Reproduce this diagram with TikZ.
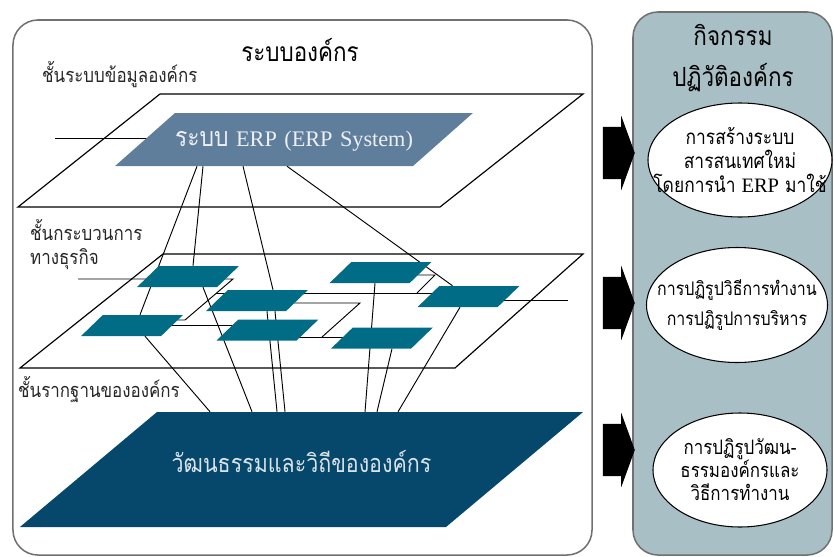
\documentclass[tikz,border=0pt]{standalone}
\usepackage{fontspec}
\setmainfont{Liberation Serif}
\newfontfamily\thaifont[Script=Thai,FakeStretch=0.85]{Loma}
\usepackage{tikz}
\usetikzlibrary{positioning}
\usetikzlibrary{calc}
\usetikzlibrary{shapes.geometric}
\usetikzlibrary{shapes.arrows}
\usetikzlibrary{backgrounds}
\definecolor{erpblue}{HTML}{5F7E9B}
\definecolor{procteal}{HTML}{006C85}
\definecolor{cultureblue}{HTML}{06486C}
\definecolor{actgray}{HTML}{A7BFC5}
\definecolor{boxline}{HTML}{707070}
\tikzset{
    layer diagram/.style={
            x=0.03cm,y=-0.03cm,
            bigbox/.style={draw=boxline,line width=1.3pt,rounded corners=0.75cm,
                minimum width=17.37cm,minimum height=16.05cm,inner sep=0pt},
            actbox/.style={bigbox,fill=actgray},
            title/.style={font=\thaifont\fontsize{22.5}{35}\selectfont,align=center},
            layerlabel/.style={anchor=west,align=left,text=black!85,inner xsep=0pt,
                font=\thaifont\fontsize{17}{21}\selectfont},
            plane/.style={draw,line width=1pt},
            link/.style={line width=0.8pt},
            slanted/.style={trapezium,inner sep=0pt},
            proc/.style={slanted,trapezium left angle=44,trapezium right angle=136,
                fill=procteal,inner xsep=0.875cm,inner ysep=0.315cm},
            sysplane/.style={slanted,trapezium left angle=41.5,trapezium right angle=138.5,
                fill=erpblue,text=white!88!erpblue,align=center,
                text width=7.14cm,text height=0.99cm,text depth=0.6cm,
                font=\fontsize{19}{20}\selectfont},
            baseplane/.style={slanted,trapezium left angle=40,trapezium right angle=140,
                fill=cultureblue,text=white!85!cultureblue,align=center,
                text width=8.67cm,text height=1.8cm,text depth=1.65cm,
                font=\thaifont\fontsize{21.5}{22}\selectfont},
            goal/.style={ellipse,draw,fill=white,line width=0.9pt,inner sep=0pt,
                minimum width=5.4cm,minimum height=3.42cm},
            goaltext/.style={align=center,inner sep=0pt},
            bigarrow/.style={single arrow,fill=black,inner xsep=0pt,inner ysep=0.78cm,
                minimum height=0.96cm,
                single arrow head extend=0.33cm,single arrow tip angle=140}
        }
    }
\begin{document}
\begin{tikzpicture}[layer diagram]
    \useasboundingbox (0,0) rectangle (834,557);
    % outer frames
    \node[bigbox] (org) at (302.5,287.5) {};
    \node[actbox,minimum width=5.97cm,minimum height=16.29cm] (act) at (732.5,283.5) {};
    \node[title] (orgtitle) at (300,50) {ระบบองค์กร};
    \node[title] (acttitle) at (733,58) {กิจกรรม\\ปฏิวัติองค์กร};
    % layers
    \draw[plane] (160,94) -- (583,94) -- (440,207) -- (18,207) -- cycle;
    \draw[plane] (163,254) -- (583,254) -- (455,368) -- (20,368) -- cycle;
    \node[layerlabel] (infolabel) at (42,75) {ชั้นระบบข้อมูลองค์กร};
    \node[layerlabel] (proclabel) at (30,244.5) {ชั้นกระบวนการ\\ทางธุรกิจ};
    \node[layerlabel] (baselabel) at (18,390) {ชั้นรากฐานขององค์กร};
    \node[sysplane] (erp) at (294,139.5)
        {{\thaifont\fontsize{23}{24}\selectfont ระบบ} ERP (ERP System)};
    \node[baseplane] (culture) at (301.5,469.5) {วัฒนธรรมและวิถีขององค์กร};
    % business processes
    \node[proc] (p1) at (188,276.5) {};
    \node[proc] (p2) at (257,300.5) {};
    \node[proc] (p3) at (132,325.5) {};
    \node[proc] (p4) at (267.5,330) {};
    \node[proc] (p5) at (380.5,272.5) {};
    \node[proc] (p6) at (468.5,296.5) {};
    \node[proc] (p7) at (382,338) {};
    % links, kept behind the shapes
    \begin{scope}[on background layer]
        \coordinate (wt) at (55,138);
        \coordinate (wl) at (78,279);
        \coordinate (wr) at (568,300);
        \coordinate (j1) at (233,279);
        \coordinate (j2) at (185,320);
        \coordinate (j3) at (216,293);
        \coordinate (j4) at (435,275);
        \coordinate (j5) at (417,293);
        \coordinate (j6) at (360,303);
        \coordinate (j7) at (322,337);
        \draw[link] (wt) -- (wt -| erp);
        \draw[link] (wl) -- (j1) -- (j2) -- (j2 -| p3);
        \draw[link] (j3) -- (j3 -| p6);
        \draw[link] (j4 -| p5) -- (j4) -- (j5);
        \draw[link] (j6 -| p2) -- (j6) -- (j7);
        \draw[link] (j7 -| p4) -- (j7 -| p7);
        \draw[link] (p3) -- (p3 -| p4);
        \draw[link] (wr -| p6) -- (wr);
        \draw[link] ($(erp.south)+(-97,0)$) -- ($(p3.north)+(8,0)$);
        \draw[link] ($(erp.south)+(-91,0)$) -- ($(p1.north)+(5,0)$);
        \draw[link] ($(erp.south)+(-51,0)$) -- ($(p2.north)+(16,0)$);
        \draw[link] ($(erp.south)+(-7,0)$) -- ($(p6.north)+(-16,0)$);
        \draw[link] ($(p3.south)+(13,0)$) -- ($(culture.north)+(-91.5,0)$);
        \draw[link] ($(p1.south)+(15,0)$) -- ($(culture.north)+(-49.5,0)$);
        \draw[link] ($(p2.south)+(10,0)$) -- ($(culture.north)+(-24.5,0)$);
        \draw[link] ($(p2.south)+(18,0)$) -- ($(culture.north)+(-16.5,0)$);
        \draw[link] ($(p5.south)+(-5.5,0)$) -- ($(culture.north)+(63.5,0)$);
        \draw[link] ($(p7.south)+(10,0)$) -- ($(culture.north)+(75.5,0)$);
        \draw[link] ($(p6.south)+(-8.5,0)$) -- ($(culture.north)+(96.5,0)$);
    \end{scope}
    % change activities
    \node[bigarrow] (a1) at (614,153) {};
    \node[bigarrow] (a2) at (614,303) {};
    \node[bigarrow] (a3) at (614,450) {};
    \node[goal,minimum width=5.52cm,
        label={[goaltext,font=\thaifont\fontsize{17.5}{20.5}\selectfont]center:{การสร้างระบบ\\สารสนเทศใหม่\\โดยการนำ {\rmfamily ERP} มาใช้}}]
        (e1) at (740,160) {};
    \node[goal,minimum width=5.43cm,minimum height=3.45cm,
        label={[goaltext,font=\thaifont\fontsize{16}{25.6}\selectfont]center:{การปฏิรูปวิธีการทำงาน\\การปฏิรูปการบริหาร}}]
        (e2) at (737,305) {};
    \node[goal,minimum width=5.22cm,
        label={[goaltext,font=\thaifont\fontsize{17}{19.6}\selectfont]center:{การปฏิรูปวัฒน-\\ธรรมองค์กรและ\\วิธีการทำงาน}}]
        (e3) at (740,470) {};
\end{tikzpicture}
\end{document}
